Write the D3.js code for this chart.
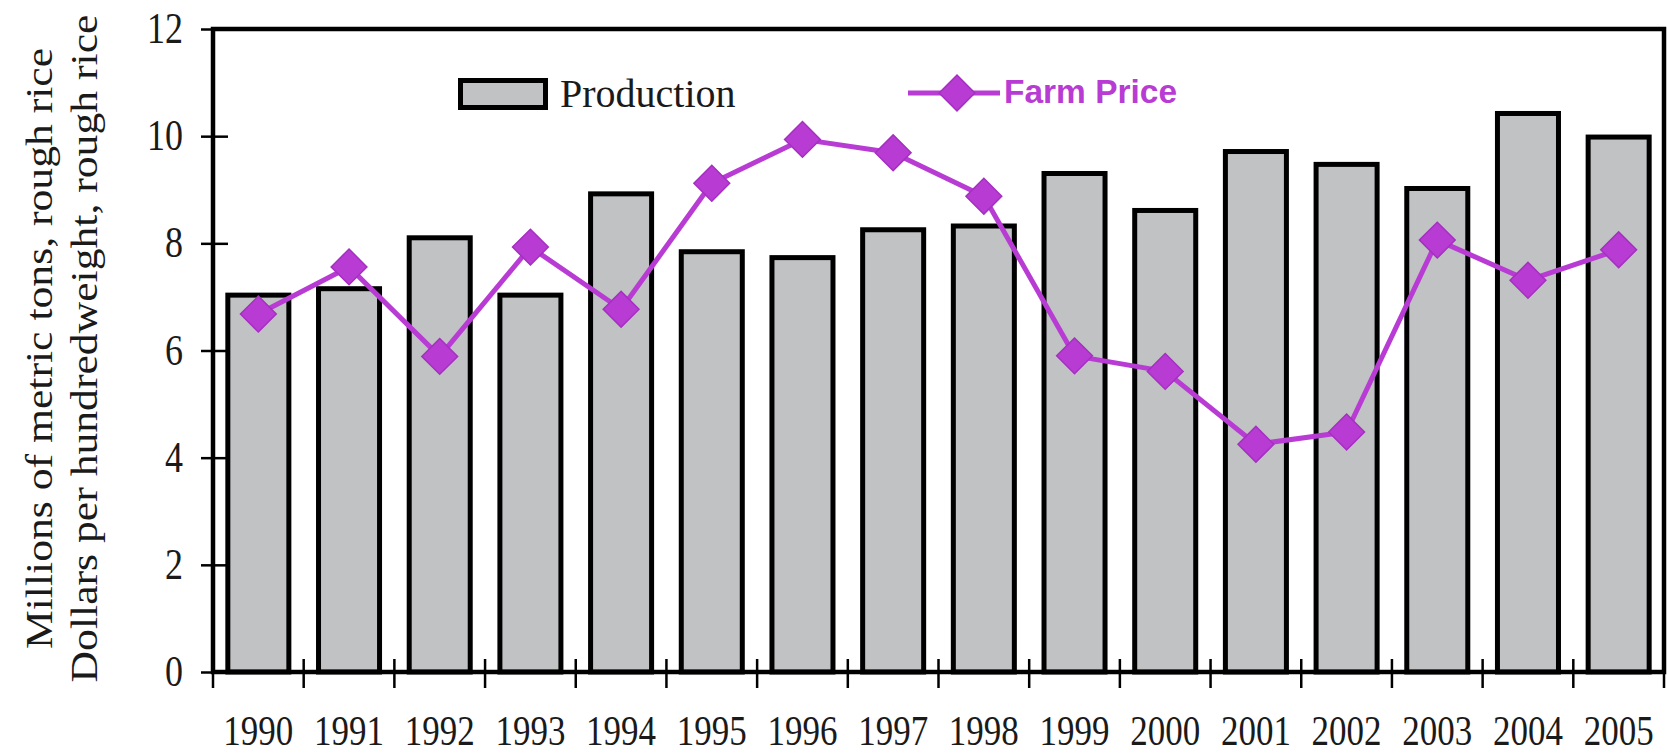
<!DOCTYPE html>
<html>
<head>
<meta charset="utf-8">
<script src="https://cdn.jsdelivr.net/npm/d3@7"></script>
<style>
  html, body { margin: 0; padding: 0; background: #ffffff; }
  svg { display: block; }
</style>
</head>
<body>
<svg id="chart" width="1667" height="754"></svg>
<script>
// ---- data ----
const years = ["1990","1991","1992","1993","1994","1995","1996","1997","1998","1999","2000","2001","2002","2003","2004","2005"];
const production = [7.08, 7.20, 8.15, 7.08, 8.97, 7.89, 7.78, 8.30, 8.37, 9.35, 8.66, 9.76, 9.52, 9.07, 10.47, 10.03];
const farmPrice = [6.68, 7.56, 5.89, 7.93, 6.77, 9.12, 9.94, 9.69, 8.88, 5.90, 5.61, 4.25, 4.48, 8.06, 7.31, 7.88];
const yTicks = [0, 2, 4, 6, 8, 10, 12];
const titleLines = ["Millions of metric tons, rough rice", "Dollars per hundredweight, rough rice"];
const legendLabels = ["Production", "Farm Price"];

// ---- layout ----
const svg = d3.select("#chart");
const L = 213, R = 1664, T = 29, B = 672;
const purple = "#b83cd4";
const serif = "'Liberation Serif', 'Times New Roman', serif";

const x = d3.scaleBand().domain(years).range([L, R]).paddingInner(0.272).paddingOuter(0.136);
const y = d3.scaleLinear().domain([0, 12]).range([B, T]);
const step = x.step();
const x0 = x.range()[0];

// bars
const bw = 5;
svg.append("g").selectAll("rect").data(years).join("rect")
  .attr("x", d => x(d) + bw / 2)
  .attr("width", x.bandwidth() - bw)
  .attr("y", (d, i) => y(production[i]) + bw / 2)
  .attr("height", (d, i) => y(0) - y(production[i]) - bw / 2)
  .attr("fill", "#c0c2c4")
  .attr("stroke", "#000")
  .attr("stroke-width", bw);

// frame
svg.append("rect")
  .attr("x", L).attr("y", T).attr("width", R - L).attr("height", B - T)
  .attr("fill", "none").attr("stroke", "#000").attr("stroke-width", 4.5);

// y axis
const yAxis = svg.append("g").attr("transform", `translate(${L},0)`)
  .call(d3.axisLeft(y).tickValues(yTicks).tickSize(12).tickPadding(18));
yAxis.select(".domain").remove();
yAxis.selectAll(".tick line").attr("x1", 15).attr("stroke", "#000").attr("stroke-width", 2.5);
yAxis.selectAll(".tick text")
  .attr("font-family", serif).attr("font-size", 36).attr("fill", "#1a1a1a")
  .attr("dy", "0.30em").attr("transform", "scale(1,1.25)");

// x axis labels
const xAxis = svg.append("g").attr("transform", `translate(0,${B})`)
  .call(d3.axisBottom(x).tickSize(0).tickPadding(0));
xAxis.select(".domain").remove();
xAxis.selectAll(".tick text")
  .attr("font-family", serif).attr("font-size", 35).attr("fill", "#1a1a1a")
  .attr("y", 61).attr("dy", 0).attr("transform", "scale(1,1.2)");

// x boundary ticks
svg.append("g").selectAll("line").data(d3.range(years.length + 1)).join("line")
  .attr("x1", k => x0 + k * step).attr("x2", k => x0 + k * step)
  .attr("y1", B - 13).attr("y2", B + 16)
  .attr("stroke", "#000").attr("stroke-width", 2.5);

// farm price line
const line = d3.line().x((d, i) => x(years[i]) + x.bandwidth() / 2).y(d => y(d));
svg.append("path").datum(farmPrice)
  .attr("d", line).attr("fill", "none")
  .attr("stroke", purple).attr("stroke-width", 5).attr("stroke-linejoin", "round");

const diamond = d3.symbol().type(d3.symbolSquare).size(640);
svg.append("g").selectAll("path").data(farmPrice).join("path")
  .attr("d", diamond)
  .attr("transform", (d, i) => `translate(${x(years[i]) + x.bandwidth() / 2},${y(d)}) rotate(45)`)
  .attr("fill", purple).attr("stroke", "#a52fc0").attr("stroke-width", 1.5);

// axis title
titleLines.forEach((t, i) => {
  svg.append("text")
    .attr("transform", `translate(${52 + i * 45},${(T + B) / 2 - 2}) rotate(-90) scale(1.18,1)`)
    .attr("text-anchor", "middle")
    .attr("font-family", serif).attr("font-size", 37).attr("fill", "#1a1a1a")
    .text(t);
});

// legend
svg.append("rect").attr("x", 460.5).attr("y", 80.5).attr("width", 85).attr("height", 27)
  .attr("fill", "#c0c2c4").attr("stroke", "#000").attr("stroke-width", bw);
svg.append("text").attr("x", 560).attr("y", 107)
  .attr("font-family", serif).attr("font-size", 40).attr("fill", "#1a1a1a")
  .text(legendLabels[0]);

svg.append("line").attr("x1", 908).attr("x2", 1000).attr("y1", 93).attr("y2", 93)
  .attr("stroke", purple).attr("stroke-width", 5);
svg.append("path").attr("d", diamond).attr("transform", "translate(957,93) rotate(45)")
  .attr("fill", purple).attr("stroke", "#a52fc0").attr("stroke-width", 1.5);
svg.append("text").attr("x", 1004).attr("y", 103)
  .attr("font-family", "'Liberation Sans', Arial, sans-serif").attr("font-weight", "bold")
  .attr("font-size", 33).attr("fill", purple)
  .attr("textLength", 173).attr("lengthAdjust", "spacingAndGlyphs")
  .text(legendLabels[1]);
</script>
</body>
</html>
